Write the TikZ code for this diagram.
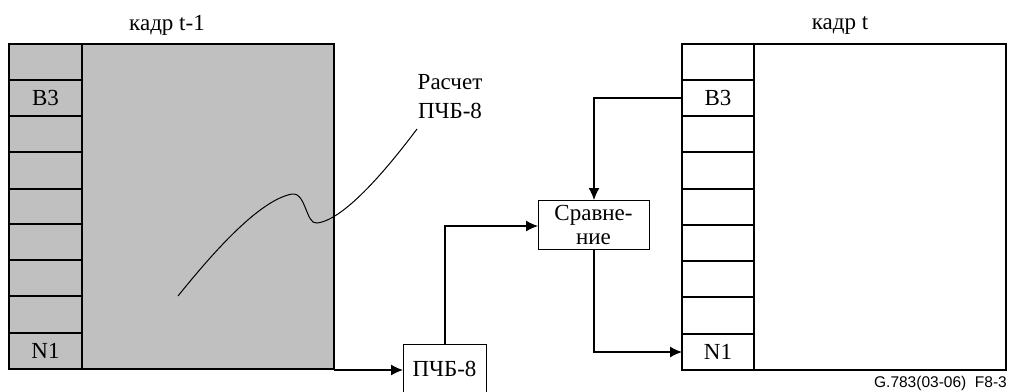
\documentclass[tikz,border=0pt]{standalone}
\usepackage{fontspec}
\setmainfont{Liberation Serif}
\newfontfamily\footfont{Liberation Sans}
\usetikzlibrary{arrows.meta}
\definecolor{framegray}{HTML}{C0C0C0}
\begin{document}
\begin{tikzpicture}[x=1pt,y=-1pt,
  line/.style={line width=1.3pt},
  arr/.style={line, -{Latex[length=12pt,width=11pt]}},
  lbl/.style={font=\fontsize{23}{26}\selectfont, inner sep=0pt},
  boxn/.style={draw, line width=1.3pt, inner sep=0pt}]
\useasboundingbox (0,0) rectangle (1009,391);
\begin{scope}
\clip (0,0) rectangle (1009,391);
% left frame
\draw[line, fill=framegray] (9,44) rectangle (334,369);
\draw[line] (82,44) -- (82,369);
\foreach \y in {80,116,152,189,224,260,296,333} \draw[line] (9,\y) -- (82,\y);
\node[lbl] (lt) at (167,25) {кадр t-1};
\node[lbl] (lb3) at (45.5,98) {B3};
\node[lbl] (ln1) at (45.5,351) {N1};
% right frame
\draw[line] (682,44) rectangle (1006,370);
\draw[line] (754,44) -- (754,370);
\foreach \y in {80,116,152,189,225,261,297,334} \draw[line] (682,\y) -- (754,\y);
\node[lbl] (rt) at (840,25) {кадр t};
\node[lbl] (rb3) at (718,98) {B3};
\node[lbl] (rn1) at (718,352) {N1};
\coordinate (rb3w) at (682,98);
\coordinate (rn1w) at (682,352);
\coordinate (lcorner) at (334,370);
% boxes
\node[boxn, minimum width=83pt, minimum height=52pt, anchor=north west] (pchb) at (403,344) {};
\node[lbl] (pchbt) at (444.5,369) {ПЧБ-8};
\node[boxn, minimum width=111pt, minimum height=49pt, anchor=north west] (cmp) at (538,200) {};
\node[lbl, align=center, font=\fontsize{23}{24}\selectfont] (cmpt) at (593.5,225) {Сравне-\\ние};
% label + curve
\node[lbl, align=center, font=\fontsize{23}{29}\selectfont] (calc) at (450,97) {Расчет\\ПЧБ-8};
\draw[line width=1pt] (178,296) .. controls (215,250) and (260,200) .. (292,194)
  .. controls (306,192) and (306,225) .. (317,223)
  .. controls (345,220) and (390,165) .. (417,129);
% connectors
\draw[arr] (lcorner) -- (pchb.west |- lcorner);
\draw[arr] (pchb.north -| 445,0) -- (445,226) -- (cmp.west |- 0,226);
\draw[arr] (rb3w) -- (594,98) -- (cmp.north -| 594,0);
\draw[arr] (cmp.south -| 594,0) -- (594,352) -- (rn1w);
\end{scope}
\node[font=\footfont\fontsize{15.5}{17}\selectfont, anchor=east, inner sep=0pt] (foot) at (1007,383) {G.783(03-06)\ \ F8-3};
\end{tikzpicture}
\end{document}
